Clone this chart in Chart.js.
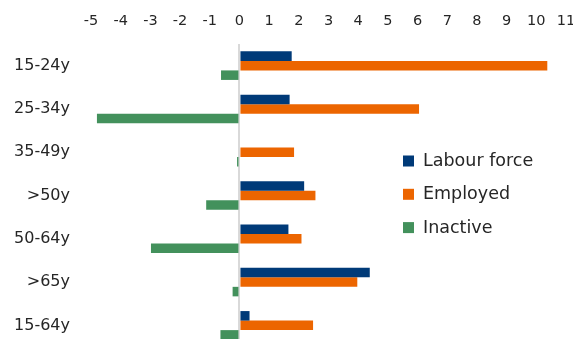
<!DOCTYPE html>
<html>
<head>
<meta charset="utf-8">
<script src="https://cdn.jsdelivr.net/npm/chart.js@4/dist/chart.umd.min.js"></script>
<style>
  html, body { margin: 0; padding: 0; background: #fff; overflow: hidden; }
  canvas { display: block; }
</style>
</head>
<body>
<canvas id="grafico" width="573" height="348"></canvas>
<script>
// categorias y series
const categorias = ["15-24y", "25-34y", "35-49y", ">50y", "50-64y", ">65y", "15-64y"];
const labourForce = [1.76, 1.69, 0, 2.18, 1.65, 4.39, 0.34];
const employed = [10.37, 6.05, 1.84, 2.56, 2.09, 3.97, 2.48];
const inactive = [-0.62, -4.8, -0.08, -1.12, -2.98, -0.23, -0.64];
const ticksX = [-5, -4, -3, -2, -1, 0, 1, 2, 3, 4, 5, 6, 7, 8, 9, 10, 11];

const FONT = "'DejaVu Sans', sans-serif";

// leyenda dibujada dentro del area del grafico
const leyendaInterna = {
  id: "leyendaInterna",
  afterDraw(chart) {
    const ctx = chart.ctx;
    ctx.save();
    ctx.font = "17.5px " + FONT;
    ctx.textBaseline = "middle";
    chart.data.datasets.forEach((ds, i) => {
      const y = 161 + i * 33.3;
      ctx.fillStyle = ds.backgroundColor;
      ctx.fillRect(403, y - 5.5, 11, 11);
      ctx.fillStyle = "#262626";
      ctx.fillText(ds.label, 423, y + 0.5);
    });
    ctx.restore();
  }
};

const grafico = new Chart(document.getElementById("grafico"), {
  type: "bar",
  data: {
    labels: categorias,
    datasets: [
      { label: "Labour force", data: labourForce, backgroundColor: "#003a78" },
      { label: "Employed", data: employed, backgroundColor: "#ec6500" },
      { label: "Inactive", data: inactive, backgroundColor: "#43915c" }
    ]
  },
  options: {
    indexAxis: "y",
    responsive: false,
    animation: false,
    layout: { padding: { top: 0, right: 7, bottom: 1, left: 0 } },
    datasets: {
      bar: { categoryPercentage: 0.66, barPercentage: 1.0 }
    },
    plugins: {
      legend: { display: false },
      tooltip: { enabled: false }
    },
    scales: {
      x: {
        position: "top",
        min: -5,
        max: 11,
        afterBuildTicks: (scale) => { scale.ticks = ticksX.map(v => ({ value: v })); },
        afterFit: (scale) => {
          scale.height = 44;
          scale.paddingLeft = 0;
          scale.paddingRight = 0;
        },
        border: { display: false },
        grid: {
          drawTicks: false,
          color: (c) => c.tick && c.tick.value === 0 ? "#d9d9d9" : "rgba(0,0,0,0)",
          lineWidth: 2
        },
        ticks: { color: "#262626", font: { family: FONT, size: 14.5 }, padding: 14, maxRotation: 0, autoSkip: false }
      },
      y: {
        afterFit: (scale) => {
          scale.width = 91;
          scale.paddingTop = 0;
          scale.paddingBottom = 0;
        },
        border: { display: false },
        grid: { display: false, drawTicks: false },
        ticks: { color: "#262626", font: { family: FONT, size: 16 }, padding: 21 }
      }
    }
  },
  plugins: [leyendaInterna]
});
window.__grafico = grafico;
</script>
</body>
</html>
